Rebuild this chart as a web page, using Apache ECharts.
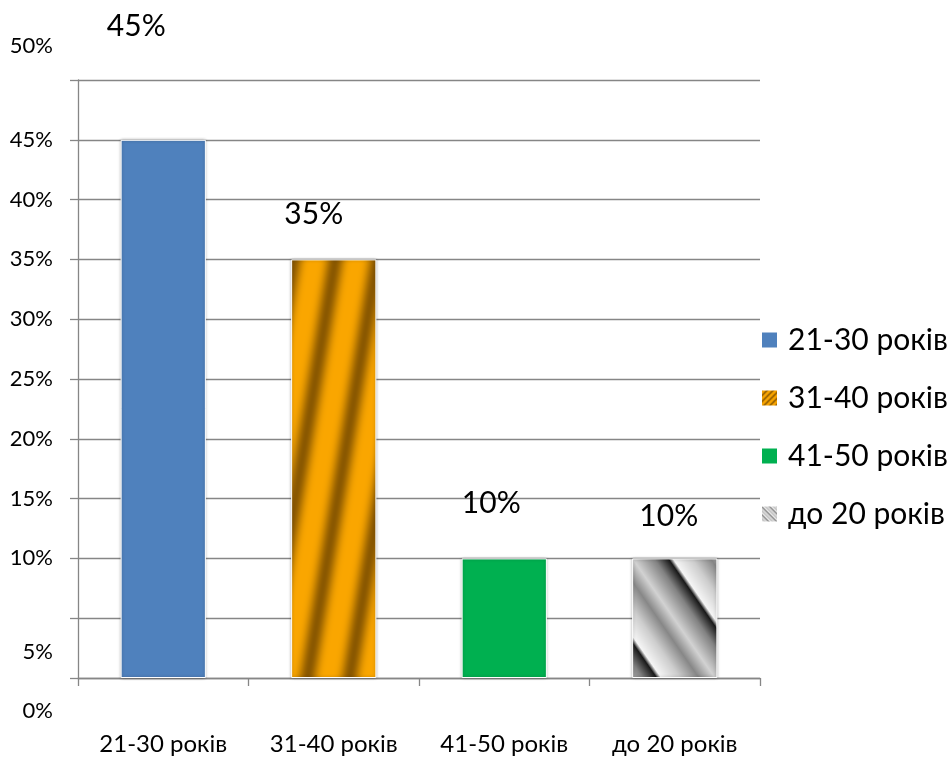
<!DOCTYPE html>
<html>
<head>
<meta charset="utf-8">
<script src="https://cdn.jsdelivr.net/npm/echarts@6/dist/echarts.min.js"></script>
<style>
  html, body { margin: 0; padding: 0; background: #fff; }
  #chart { width: 950px; height: 758px; }
</style>
</head>
<body>
<div id="chart"></div>
<script>
// data
const categories = ['21-30 років', '31-40 років', '41-50 років', 'до 20 років'];
const values = [45, 35, 10, 10];

// label placement (the original has them floating a bit off the bars)
const labelShift = [[-27, -93], [-20, -25], [-13, -35], [-6, -22]];
// the 50%, 5% and 0% tick labels sit off their gridlines in the original
const oddTicks = [[50, -34], [5, 34], [0, 33]];

const font = 'Lato, "Noto Sans", sans-serif';
const gridLeft = 78;

function makeTile(w, h, fn) {
  const c = document.createElement('canvas');
  c.width = w; c.height = h;
  const ctx = c.getContext('2d');
  const img = ctx.createImageData(w, h);
  for (let y = 0; y < h; y++) {
    for (let x = 0; x < w; x++) {
      const rgb = fn(x, y);
      const k = (y * w + x) * 4;
      img.data[k] = rgb[0]; img.data[k + 1] = rgb[1]; img.data[k + 2] = rgb[2]; img.data[k + 3] = 255;
    }
  }
  ctx.putImageData(img, 0, 0);
  return c;
}

function lerp(a, b, t) {
  return [0, 1, 2].map(i => Math.round(a[i] + (b[i] - a[i]) * t));
}

function orangeAt(p) {
  const t = 0.5 + 0.5 * Math.cos(2 * Math.PI * p);
  return lerp([250, 166, 0], [138, 88, 0], t * t);
}

const grayKeys = [[0, 25], [0.05, 245], [0.25, 205], [0.45, 135], [0.62, 210], [0.85, 130], [1, 25]];
function grayAt(p) {
  p = p % 1;
  if (p < 0) p += 1;
  let v = 25;
  for (let i = 0; i < grayKeys.length - 1; i++) {
    const a = grayKeys[i], b = grayKeys[i + 1];
    if (p >= a[0] && p <= b[0]) { v = a[1] + (b[1] - a[1]) * (p - a[0]) / (b[0] - a[0]); break; }
  }
  v = Math.round(v);
  return [v, v, v];
}

// bar fills: orange "/" stripes, gray "\" stripes
const orangeTile = makeTile(42, 252, (x, y) => orangeAt((x / 42 + y / 252) % 1));
const grayTile = makeTile(94, 136, (x, y) => grayAt(x / 94 - y / 136));
// finer versions for the legend icons
const orangeIcon = makeTile(6, 6, (x, y) => orangeAt(((x + y) % 6) / 6));
const grayIcon = makeTile(8, 8, (x, y) => {
  const c = grayAt((x - y) / 8);
  return c.map(v => Math.round(110 + v * 0.55));
});

const fills = [
  '#4F81BD',
  { image: orangeTile, repeat: 'repeat' },
  '#00B050',
  { image: grayTile, repeat: 'repeat' }
];
const iconFills = [
  '#4F81BD',
  { image: orangeIcon, repeat: 'repeat' },
  '#00B050',
  { image: grayIcon, repeat: 'repeat' }
];

const chart = echarts.init(document.getElementById('chart'));
chart.setOption({
  animation: false,
  backgroundColor: '#fff',
  grid: { left: gridLeft, right: 190, top: 80, bottom: 80 },
  legend: {
    orient: 'vertical',
    left: 755,
    top: 320,
    itemWidth: 17,
    itemHeight: 17,
    itemGap: 28,
    icon: 'rect',
    data: categories.map((name, i) => ({ name: name, itemStyle: { color: iconFills[i] } })),
    textStyle: { fontFamily: font, fontSize: 30, lineHeight: 30, color: '#000', padding: [0, 0, 0, 5] }
  },
  xAxis: {
    type: 'category',
    data: categories,
    axisLine: { lineStyle: { color: '#868686', width: 1.3 } },
    axisTick: { show: true, length: 8, lineStyle: { color: '#868686', width: 1.3 } },
    axisLabel: { margin: 54, fontFamily: font, fontSize: 24, color: '#000' }
  },
  yAxis: {
    type: 'value',
    min: 0,
    max: 50,
    interval: 5,
    axisLine: { show: true, lineStyle: { color: '#868686', width: 1.3 } },
    axisTick: { show: true, length: 8, lineStyle: { color: '#868686', width: 1.3 } },
    splitLine: { lineStyle: { color: '#868686', width: 1.3 } },
    axisLabel: {
      margin: 25,
      fontFamily: font,
      fontSize: 22,
      color: '#000',
      formatter: v => (oddTicks.some(t => t[0] === v) ? '' : v + '%')
    }
  },
  series: categories.map((name, i) => ({
    name: name,
    type: 'bar',
    stack: 'all',
    barWidth: '50%',
    data: categories.map((c, j) => (j === i ? values[i] : '-')),
    itemStyle: {
      color: fills[i],
      borderColor: '#fff',
      borderWidth: 1,
      shadowBlur: 3,
      shadowColor: 'rgba(0,0,0,0.3)'
    },
    label: {
      show: true,
      position: 'top',
      distance: 5,
      offset: labelShift[i],
      formatter: '{c}%',
      fontFamily: font,
      fontSize: 30,
      color: '#000'
    }
  }))
});

// place the three displaced tick labels from the axis scale
chart.setOption({
  graphic: oddTicks.map(t => ({
    type: 'text',
    x: gridLeft - 25,
    y: chart.convertToPixel({ yAxisIndex: 0 }, t[0]) + t[1],
    style: {
      text: t[0] + '%',
      font: '22px ' + font,
      fill: '#000',
      align: 'right',
      verticalAlign: 'middle'
    }
  }))
});
</script>
</body>
</html>
